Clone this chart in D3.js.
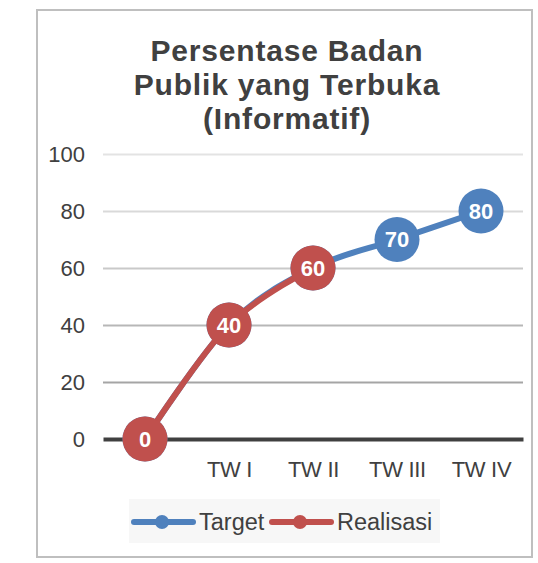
<!DOCTYPE html>
<html>
<head>
<meta charset="utf-8">
<script src="https://cdn.jsdelivr.net/npm/d3@7"></script>
<style>
  body { margin: 0; background: #fff; }
  svg { display: block; font-family: "Liberation Sans", Arial, sans-serif; }
</style>
</head>
<body>
<svg></svg>
<script>
const categories = ["", "TW I", "TW II", "TW III", "TW IV"];
const target = [0, 40, 60, 70, 80];
const realisasi = [0, 40, 60];
const yTicks = [0, 20, 40, 60, 80, 100];
const titleLines = ["Persentase Badan", "Publik yang Terbuka", "(Informatif)"];
const seriesNames = ["Target", "Realisasi"];

const w = 538;
const h = 563;
const plotL = 103, plotR = 523, plotT = 154, plotB = 439;
const colors = ["#4f81bd", "#c0504d"];
const gridColors = { 20: "#a5a5a5", 40: "#b7b7b7", 60: "#c9c9c9", 80: "#d9d9d9", 100: "#e3e3e3" };

let svg = d3.select("svg").attr("width", w).attr("height", h);

// outer frame
svg.append("rect")
   .attr("x", 37).attr("y", 10)
   .attr("width", 495).attr("height", 547)
   .attr("fill", "#fff")
   .attr("stroke", "#bfbfbf")
   .attr("stroke-width", 2);

// title
svg.append("text")
   .attr("text-anchor", "middle")
   .attr("font-size", 30)
   .attr("font-weight", "bold")
   .attr("letter-spacing", 0.8)
   .attr("fill", "#404040")
   .selectAll("tspan")
   .data(titleLines)
   .enter()
   .append("tspan")
   .attr("x", 287)
   .attr("y", (d, i) => 61 + i * 34)
   .text(d => d);

let xScale = d3.scalePoint().domain(categories).range([plotL, plotR]).padding(0.5);
let yScale = d3.scaleLinear().domain([0, 100]).range([plotB, plotT]);

// y axis + gridlines
let yAxis = d3.axisLeft(yScale).tickValues(yTicks).tickSize(-(plotR - plotL)).tickPadding(18);
let yg = svg.append("g")
   .attr("transform", `translate(${plotL},0)`)
   .call(yAxis);
yg.select(".domain").remove();
yg.selectAll(".tick line")
  .attr("stroke", d => gridColors[d] || "none")
  .attr("stroke-width", 2);
yg.selectAll(".tick text")
  .attr("font-size", 22)
  .attr("font-family", "Liberation Sans, Arial, sans-serif")
  .attr("fill", "#404040");

// x axis
let xAxis = d3.axisBottom(xScale).tickSize(0).tickPadding(22);
let xg = svg.append("g")
   .attr("transform", `translate(0,${plotB})`)
   .call(xAxis);
xg.select(".domain")
  .attr("stroke", "#404040")
  .attr("stroke-width", 4);
xg.selectAll(".tick text")
  .attr("font-size", 22)
  .attr("font-family", "Liberation Sans, Arial, sans-serif")
  .attr("letter-spacing", -0.3)
  .attr("fill", "#404040");

// series
let line = d3.line()
   .x((d, i) => xScale(categories[i]))
   .y(d => yScale(d))
   .curve(d3.curveCardinal.tension(0));

[target, realisasi].forEach((series, s) => {
  let g = svg.append("g");
  g.append("path")
   .datum(series)
   .attr("d", line)
   .attr("fill", "none")
   .attr("stroke", colors[s])
   .attr("stroke-width", 6)
   .attr("stroke-linecap", "round");
  let pts = g.selectAll("g.pt")
   .data(series)
   .enter()
   .append("g")
   .attr("transform", (d, i) => `translate(${xScale(categories[i])},${yScale(d)})`);
  pts.append("circle")
   .attr("r", 22.5)
   .attr("fill", colors[s]);
  pts.append("text")
   .attr("text-anchor", "middle")
   .attr("dy", "0.36em")
   .attr("font-size", 22)
   .attr("font-weight", "bold")
   .attr("fill", "#fff")
   .text(d => d);
});

// legend
let legend = svg.append("g");
legend.append("rect")
   .attr("x", 129).attr("y", 499)
   .attr("width", 311).attr("height", 44)
   .attr("fill", "#f7f7f7");
let legendX = [134, 272];
seriesNames.forEach((name, i) => {
  let lg = legend.append("g").attr("transform", `translate(${legendX[i]},522)`);
  lg.append("line")
    .attr("x1", 0).attr("x2", 59)
    .attr("stroke", colors[i])
    .attr("stroke-width", 6)
    .attr("stroke-linecap", "round");
  lg.append("circle")
    .attr("cx", 28).attr("r", 7)
    .attr("fill", colors[i]);
  lg.append("text")
    .attr("x", 65)
    .attr("dy", "0.36em")
    .attr("font-size", 23.5)
    .attr("fill", "#404040")
    .text(name);
});
</script>
</body>
</html>
